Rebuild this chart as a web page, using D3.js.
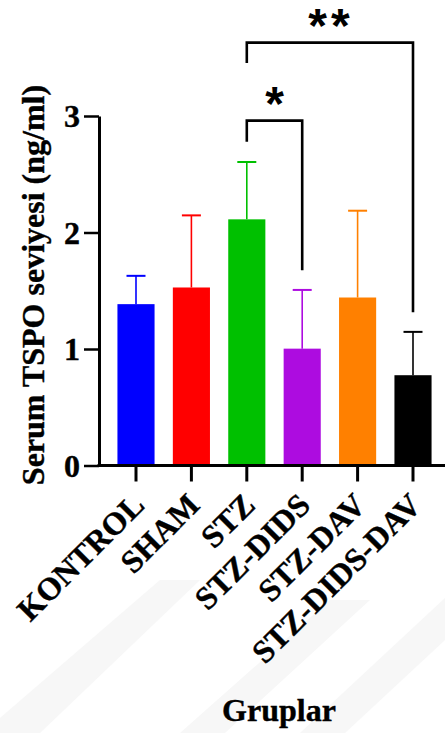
<!DOCTYPE html>
<html>
<head>
<meta charset="utf-8">
<script src="https://cdn.jsdelivr.net/npm/d3@7"></script>
<style>
  html, body { margin: 0; padding: 0; background: #fff; }
  svg { display: block; }
  .serif { font-family: "Liberation Serif", "Times New Roman", serif; font-weight: bold; fill: #000; }
</style>
</head>
<body>
<svg id="chart" width="445" height="733"></svg>
<script>
// Serum TSPO levels by group (mean and SD, ng/ml)
const groups = ["KONTROL", "SHAM", "STZ", "STZ-DIDS", "STZ-DAV", "STZ-DIDS-DAV"];
const means  = [1.385, 1.528, 2.113, 1.003, 1.442, 0.775];
const sds    = [0.243, 0.619, 0.492, 0.504, 0.745, 0.372];
const colors = ["#0000ff", "#ff0000", "#00c000", "#ad0ce0", "#ff8000", "#000000"];
const yTicks = [0, 1, 2, 3];

// Significance brackets: compared groups, bracket height and leg ends (data units)
const compFrom   = ["STZ", "STZ"];
const compTo     = ["STZ-DIDS", "STZ-DIDS-DAV"];
const compTop    = [2.96, 3.63];
const compLegA   = [2.78, 3.455];
const compLegB   = [1.675, 1.315];
const compLabels = ["*", "**"];

const W = 445, H = 733;
const svg = d3.select("#chart");

// faint background stripes
const bg = svg.append("g").attr("fill", "#f7f7f7");
const stripes = [
  [[0, 718], [160, 580], [200, 580], [40, 733], [0, 733]],
  [[300, 733], [445, 598], [445, 640], [345, 733]],
  [[180, 733], [330, 600], [370, 600], [225, 733]]
];
stripes.forEach(p => bg.append("polygon").attr("points", p.map(d => d.join(",")).join(" ")));

const x = d3.scaleBand().domain(groups).range([108.3, 440.7]).paddingInner(0.33).paddingOuter(0.165);
const y = d3.scaleLinear().domain([0, 3]).range([465.5, 116]);
const axisX = 99;

const data = groups.map((g, i) => ({ g, m: means[i], sd: sds[i], c: colors[i] }));

// bars
svg.append("g").selectAll("rect").data(data).join("rect")
  .attr("x", d => x(d.g))
  .attr("width", x.bandwidth())
  .attr("y", d => y(d.m))
  .attr("height", d => y(0) - y(d.m))
  .attr("fill", d => d.c);

// upper error bars
const capW = 19;
const eb = svg.append("g").selectAll("g").data(data).join("g");
eb.append("line")
  .attr("x1", d => x(d.g) + x.bandwidth() / 2).attr("x2", d => x(d.g) + x.bandwidth() / 2)
  .attr("y1", d => y(d.m)).attr("y2", d => y(d.m + d.sd))
  .attr("stroke", d => d.c).attr("stroke-width", 1.6);
eb.append("line")
  .attr("x1", d => x(d.g) + x.bandwidth() / 2 - capW / 2).attr("x2", d => x(d.g) + x.bandwidth() / 2 + capW / 2)
  .attr("y1", d => y(d.m + d.sd)).attr("y2", d => y(d.m + d.sd))
  .attr("stroke", d => d.c).attr("stroke-width", 2);

// y axis
const yAxis = svg.append("g").attr("transform", `translate(${axisX},0)`)
  .call(d3.axisLeft(y).tickValues(yTicks).tickFormat(d3.format("d")).tickSize(15).tickSizeOuter(0).tickPadding(4));
yAxis.select(".domain").attr("stroke", "#000").attr("stroke-width", 3);
yAxis.selectAll(".tick line").attr("stroke", "#000").attr("stroke-width", 2.5);
yAxis.selectAll(".tick text").attr("class", "serif").attr("font-size", 32).attr("dy", "0.33em")
  .attr("stroke", "#000").attr("stroke-width", 0.4);

// x axis
const xAxis = svg.append("g").attr("transform", `translate(0,${y(0)})`)
  .call(d3.axisBottom(x).tickSize(16).tickSizeOuter(0).tickFormat(""));
xAxis.select(".domain").remove();
xAxis.selectAll(".tick line").attr("stroke", "#000").attr("stroke-width", 3);
svg.append("line")
  .attr("x1", axisX - 1.5).attr("x2", W).attr("y1", y(0)).attr("y2", y(0))
  .attr("stroke", "#000").attr("stroke-width", 3);

// category labels
svg.append("g").selectAll("text").data(groups).join("text")
  .attr("class", "serif")
  .attr("font-size", 32)
  .attr("stroke", "#000").attr("stroke-width", 0.4)
  .attr("text-anchor", "end")
  .attr("transform", d => `translate(${x(d) + x.bandwidth() / 2 + 10},507) rotate(-45)`)
  .text(d => d);

// axis titles
svg.append("text").attr("class", "serif").attr("font-size", 32)
  .attr("stroke", "#000").attr("stroke-width", 0.4)
  .attr("text-anchor", "middle")
  .attr("transform", "translate(44,285) rotate(-90)")
  .text("Serum TSPO seviyesi (ng/ml)");
svg.append("text").attr("class", "serif").attr("font-size", 32)
  .attr("stroke", "#000").attr("stroke-width", 0.4)
  .attr("text-anchor", "middle")
  .attr("x", 279).attr("y", 721)
  .text("Gruplar");

// significance brackets
const br = svg.append("g");
compFrom.forEach((f, i) => {
  const xa = x(f) + x.bandwidth() / 2;
  const xb = x(compTo[i]) + x.bandwidth() / 2;
  br.append("path")
    .attr("d", `M${xa},${y(compLegA[i])}V${y(compTop[i])}H${xb}V${y(compLegB[i])}`)
    .attr("fill", "none").attr("stroke", "#000").attr("stroke-width", 2.6);
  br.append("text")
    .attr("x", (xa + xb) / 2 + (i === 1 ? 1 : 0)).attr("y", y(compTop[i]) - 1)
    .attr("text-anchor", "middle")
    .attr("font-family", "Liberation Sans, Arial, sans-serif")
    .attr("font-weight", "bold")
    .attr("font-size", 48)
    .attr("letter-spacing", i === 1 ? 4 : 0)
    .text(compLabels[i]);
});
</script>
</body>
</html>
